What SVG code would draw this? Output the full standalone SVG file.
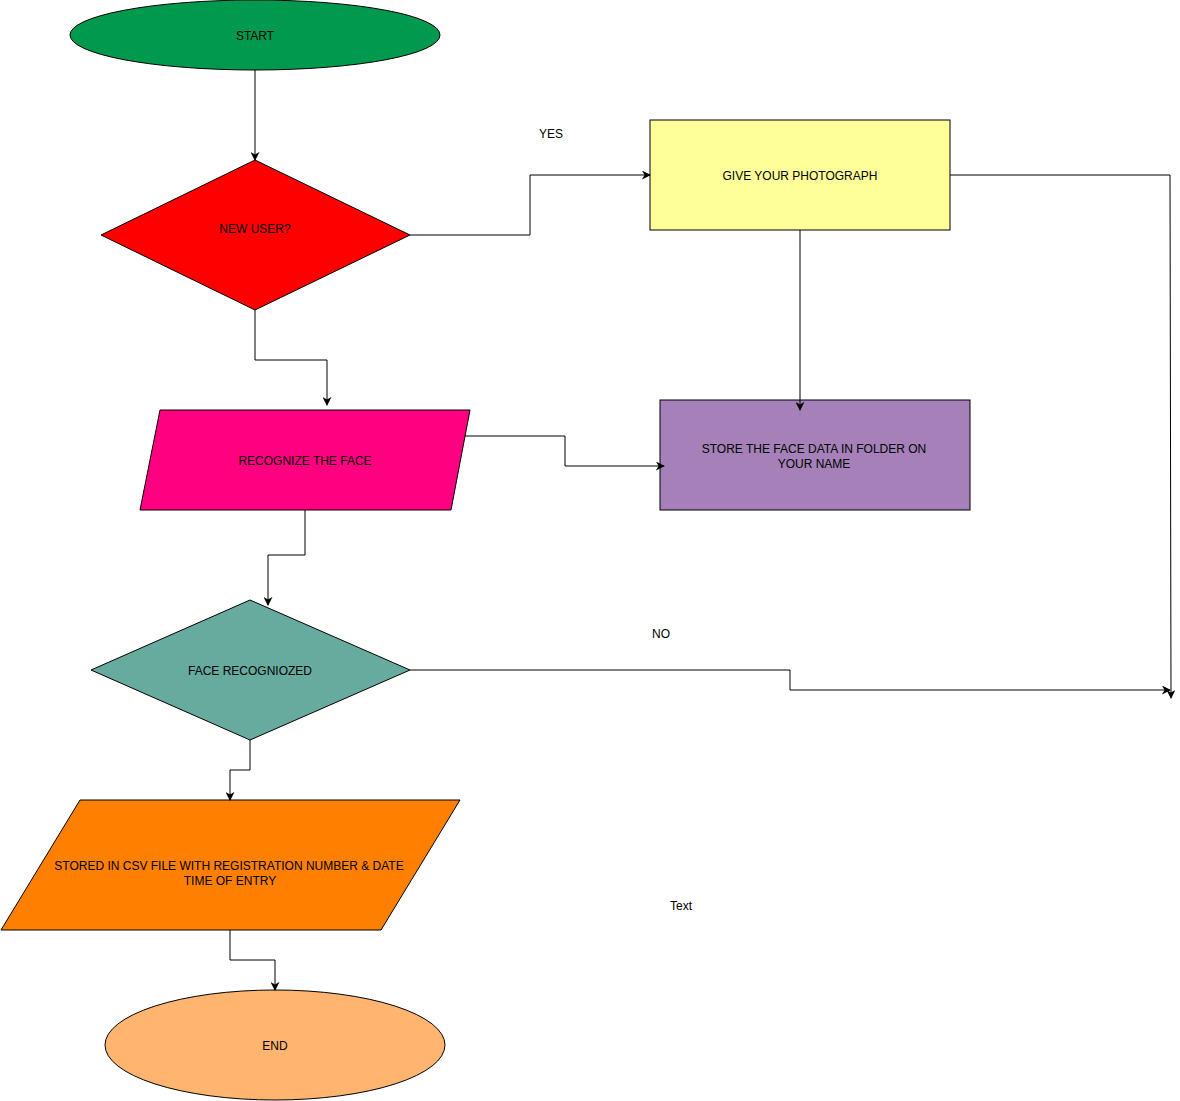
<svg xmlns="http://www.w3.org/2000/svg" width="1180" height="1101" viewBox="0 0 1180 1101">
<style>
.s{stroke:#000;stroke-width:1}
.t{font-family:"Liberation Sans",Arial,sans-serif;font-size:12px;fill:#000;text-anchor:middle;dominant-baseline:central}
.c{fill:none;stroke:#000;stroke-width:1;marker-end:url(#a)}
</style>
<defs>
<marker id="a" viewBox="0 0 10 10" refX="9" refY="5" markerWidth="9" markerHeight="9" markerUnits="userSpaceOnUse" orient="auto">
<path d="M0,0 L10,5 L0,10 L3,5 Z" fill="#000"/>
</marker>
</defs>
<rect width="1180" height="1101" fill="#fff"/>
<g id="start"><ellipse class="s" cx="255" cy="35" rx="185" ry="35" fill="#00994D"/><text class="t" x="255" y="36">START</text></g>
<g id="newuser"><polygon class="s" points="255,160 410,235 255,310 101,235" fill="#FF0000"/><text class="t" x="255" y="229">NEW USER?</text></g>
<g id="photo"><rect class="s" x="650" y="120" width="300" height="110" fill="#FFFF99"/><text class="t" x="800" y="176">GIVE YOUR PHOTOGRAPH</text></g>
<g id="store"><rect class="s" x="660" y="400" width="310" height="110" fill="#A680B8"/><text class="t" x="814" y="449">STORE THE FACE DATA IN FOLDER ON</text><text class="t" x="814" y="464">YOUR NAME</text></g>
<g id="recognize"><polygon class="s" points="160,410 470,410 451,510 140,510" fill="#FF0080"/><text class="t" x="305" y="461">RECOGNIZE THE FACE</text></g>
<g id="recognized"><polygon class="s" points="250,600 410,670 250,740 91,670" fill="#67AB9F"/><text class="t" x="250" y="671">FACE RECOGNIOZED</text></g>
<g id="csv"><polygon class="s" points="80,800 460,800 381,930 1,930" fill="#FF8000"/><text class="t" x="229" y="866">STORED IN CSV FILE WITH REGISTRATION NUMBER &amp; DATE</text><text class="t" x="230" y="881">TIME OF ENTRY</text></g>
<g id="end"><ellipse class="s" cx="275" cy="1045" rx="170" ry="55" fill="#FFB570"/><text class="t" x="275" y="1046">END</text></g>
<g id="connectors">
<path class="c" d="M255,70 V160"/>
<path class="c" d="M410,235 H530 V175 H650"/>
<path class="c" d="M800,230 V410"/>
<path class="c" d="M950,175 H1170 L1171,698"/>
<path class="c" d="M255,310 V360 H327 V405"/>
<path class="c" d="M465,436 H565 V466 H664"/>
<path class="c" d="M305,510 V555 H268 V605"/>
<path class="c" d="M410,670 H790 V690 L1170,690"/>
<path class="c" d="M250,740 V770 H230 V800"/>
<path class="c" d="M230,930 V960 H275 V990"/>
</g>
<g id="labels">
<text class="t" x="551" y="134">YES</text>
<text class="t" x="661" y="634">NO</text>
<text class="t" x="681" y="906">Text</text>
</g>
</svg>
